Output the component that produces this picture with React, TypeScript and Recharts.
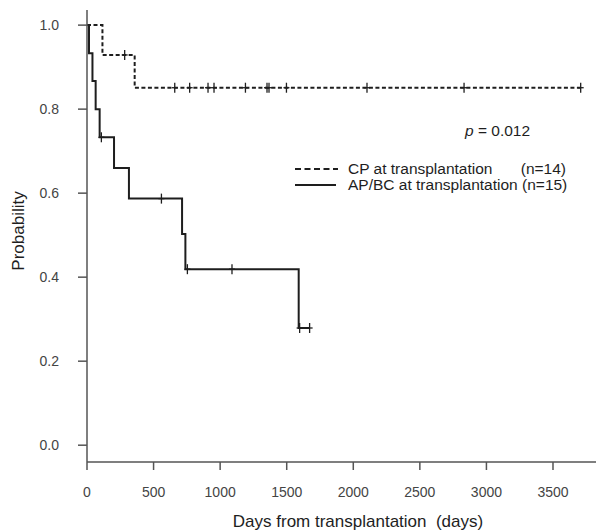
import React from 'react';
import {
  ComposedChart,
  Line,
  Scatter,
  XAxis,
  YAxis,
  Customized,
} from 'recharts';

// Kaplan-Meier steps (day, probability)
const cpDays = [0, 116, 358, 3708];
const cpProb = [1.0, 0.929, 0.851, 0.851];
const cpCensorDays = [283, 659, 771, 909, 954, 1190, 1352, 1367, 1498, 2103, 2832, 3708];

const apDays = [0, 15, 41, 65, 95, 203, 315, 714, 739, 1590, 1672];
const apProb = [1.0, 0.933, 0.867, 0.8, 0.733, 0.66, 0.587, 0.503, 0.419, 0.279, 0.279];
const apCensorDays = [108, 559, 754, 1089, 1597, 1672];

const xTicks = [0, 500, 1000, 1500, 2000, 2500, 3000, 3500];
const yTicks = [0, 0.2, 0.4, 0.6, 0.8, 1.0];

const FONT = '"Liberation Sans", Arial, sans-serif';
const INK = '#1e1e1e';
const AXIS = '#555';

const toSteps = (days: number[], probs: number[]) =>
  days.map((day, i) => ({ day, prob: probs[i] }));

// survival value at a censor time, taken from the step curve
const probAt = (days: number[], probs: number[], t: number) => {
  let p = probs[0];
  days.forEach((d, i) => {
    if (d <= t) p = probs[i];
  });
  return p;
};

const toCensors = (cens: number[], days: number[], probs: number[]) =>
  cens.map((day) => ({ day, prob: probAt(days, probs, day) }));

const cpData = toSteps(cpDays, cpProb);
const apData = toSteps(apDays, apProb);
const cpCensors = toCensors(cpCensorDays, cpDays, cpProb);
const apCensors = toCensors(apCensorDays, apDays, apProb);

const CensorMark = (props: any) => {
  const { cx, cy } = props;
  if (cx == null || cy == null) return null;
  return (
    <g stroke={INK} strokeWidth={1.3}>
      <line x1={cx} y1={cy - 5} x2={cx} y2={cy + 5} />
      <line x1={cx - 3} y1={cy} x2={cx + 3} y2={cy} />
    </g>
  );
};

const Annotations = () => (
  <g fontFamily={FONT} fill={INK}>
    <text x={465} y={131} dy="0.35em" fontSize={15.5}>
      <tspan fontStyle="italic">p</tspan> = 0.012
    </text>

    <line x1={295} y1={169} x2={338} y2={169} stroke={INK} strokeWidth={2} strokeDasharray="6 3.5" />
    <text x={348} y={168.5} dy="0.35em" fontSize={15.5}>CP at transplantation</text>
    <text x={566} y={168.5} dy="0.35em" fontSize={15.5} textAnchor="end">(n=14)</text>

    <line x1={295} y1={185} x2={336} y2={185} stroke={INK} strokeWidth={2} />
    <text x={348} y={185} dy="0.35em" fontSize={15.5}>AP/BC at transplantation (n=15)</text>

    <text x={358} y={520.7} dy="0.35em" fontSize={17} textAnchor="middle" style={{ whiteSpace: 'pre' }}>
      {'Days from transplantation  (days)'}
    </text>
    <text
      x={18}
      y={231}
      dy="0.35em"
      fontSize={17}
      textAnchor="middle"
      transform="rotate(-90 18 231)"
    >
      Probability
    </text>
  </g>
);

export default function App() {
  return (
    <div style={{ position: 'absolute', left: 0, top: 0, background: '#fff' }}>
      <ComposedChart
        width={596}
        height={531}
        margin={{ top: 10, right: 0, left: 0, bottom: 0 }}
      >
        <XAxis
          dataKey="day"
          type="number"
          domain={[0, 3823]}
          ticks={xTicks}
          allowDataOverflow
          height={69}
          tickSize={8}
          tickMargin={17}
          stroke={AXIS}
          strokeWidth={1.5}
          tick={{ fontSize: 14, fill: '#444', fontFamily: FONT }}
        />
        <YAxis
          dataKey="prob"
          type="number"
          domain={[-0.04, 1.036]}
          ticks={yTicks}
          allowDataOverflow
          width={87}
          tickSize={9}
          tickMargin={19}
          stroke={AXIS}
          strokeWidth={1.5}
          tickFormatter={(v: number) => v.toFixed(1)}
          tick={{ fontSize: 14, fill: '#444', fontFamily: FONT }}
        />
        <Line
          data={cpData}
          dataKey="prob"
          type="stepAfter"
          stroke={INK}
          strokeWidth={2}
          strokeDasharray="4 2.5"
          dot={false}
          isAnimationActive={false}
        />
        <Line
          data={apData}
          dataKey="prob"
          type="stepAfter"
          stroke={INK}
          strokeWidth={2}
          dot={false}
          isAnimationActive={false}
        />
        <Scatter data={cpCensors} dataKey="prob" shape={<CensorMark />} isAnimationActive={false} />
        <Scatter data={apCensors} dataKey="prob" shape={<CensorMark />} isAnimationActive={false} />
        <Customized component={Annotations} />
      </ComposedChart>
    </div>
  );
}
